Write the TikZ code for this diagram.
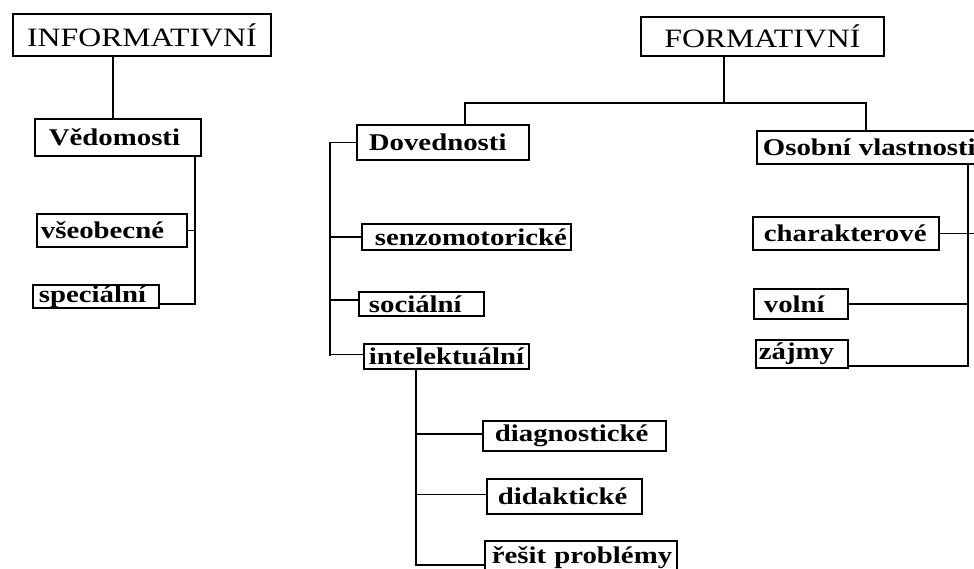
\documentclass[tikz,border=0pt]{standalone}
\usepackage{fontspec}
\newfontfamily\lblfont{Liberation Serif}[FakeStretch=1.2]
\usetikzlibrary{positioning,calc}

\tikzset{
  lbl/.style={draw, line width=1.8pt, anchor=north west, inner ysep=0pt, align=left,
    font=\lblfont\bfseries\fontsize{24}{26}\selectfont},
  head/.style={draw, line width=1.8pt, anchor=north west, inner sep=0pt,
    font=\lblfont\fontsize{26.5}{28}\selectfont},
  conn/.style={line width=1.8pt}
}

\begin{document}
\begin{tikzpicture}[x=1pt,y=-1pt]
    \useasboundingbox (0,0) rectangle (974,568);
    \clip (0,0) rectangle (974,568);

    % headings
    \node[head, minimum width=258pt, minimum height=42pt] (inf) at (12,13) {INFORMATIVNÍ};
    \node[head, minimum width=243pt, minimum height=39pt] (form) at (640,16) {FORMATIVNÍ};

    % informativni
    \node[lbl, inner xsep=14pt, text width=138pt, minimum height=37pt] (ved) at (34,118) {Vědomosti};
    \node[lbl, inner xsep=4pt, text width=142pt, minimum height=33pt] (vseob) at (36,213) {všeobecné};
    \node[lbl, inner xsep=6pt, text width=114pt, minimum height=23pt] (spec) at (32,284) {speciální};

    % formativni - dovednosti
    \node[lbl, inner xsep=12pt, text width=148pt, minimum height=35pt] (dov) at (356,124) {Dovednosti};
    \node[lbl, inner xsep=13pt, text width=183pt, minimum height=26pt] (senz) at (361,223) {senzomotorické};
    \node[lbl, inner xsep=10pt, text width=105pt, minimum height=24pt] (soc) at (358,291) {sociální};
    \node[lbl, inner xsep=5pt, text width=155pt, minimum height=25pt] (intel) at (363,343) {intelektuální};
    \node[lbl, inner xsep=12pt, text width=159pt, minimum height=30pt] (diag) at (482,420) {diagnostické};
    \node[lbl, inner xsep=11pt, text width=133pt, minimum height=35pt] (didak) at (486,478) {didaktické};
    \node[lbl, inner xsep=7pt, text width=178pt, minimum height=34pt] (resit) at (484,540) {\mbox{řešit problémy}};

    % formativni - osobni vlastnosti
    \node[lbl, inner xsep=6pt, text width=222pt, minimum height=33pt] (osob) at (756,130) {\mbox{Osobní vlastnosti}};
    \node[lbl, inner xsep=11pt, text width=164pt, minimum height=33pt] (char) at (752,216) {charakterové};
    \node[lbl, inner xsep=10pt, text width=74pt, minimum height=30pt] (voln) at (753,288) {volní};
    \node[lbl, inner xsep=3pt, text width=86pt, minimum height=28pt] (zajm) at (755,339) {zájmy};

    % trunk positions
    \coordinate (vedT) at (113,0);
    \coordinate (vedR) at (195,0);
    \coordinate (fork) at (724,103);
    \coordinate (forkL) at (465,103);
    \coordinate (forkR) at (866,103);
    \coordinate (dovL) at (330,0);
    \coordinate (intT) at (416,0);
    \coordinate (osoR) at (968,0);

    % connectors
    \draw[conn] (inf.south -| vedT) -- (ved.north -| vedT);
    \draw[conn] (ved.south -| vedR) |- ([yshift=5pt]spec.south east);
    \draw[conn] (vseob.east) -- (vseob.east -| vedR);

    \draw[conn] (form.south -| fork) -- (fork);
    \draw[conn] (dov.north -| forkL) -- (forkL) -- (forkR) -- (osob.north -| forkR);

    \draw[conn] (dov.west) -| (intel.west -| dovL);
    \draw[conn] (senz.west) -- (senz.west -| dovL);
    \draw[conn] ([yshift=4pt]soc.west) -- ([yshift=4pt]soc.west -| dovL);
    \draw[conn] ([yshift=2pt]intel.west) -- ([yshift=2pt]intel.west -| dovL);

    \draw[conn] (intel.south -| intT) |- ([yshift=-7pt]resit.west);
    \draw[conn] ([yshift=2pt]diag.west) -- ([yshift=2pt]diag.west -| intT);
    \draw[conn] ([yshift=2pt]didak.west) -- ([yshift=2pt]didak.west -| intT);

    \draw[conn] (osob.south -| osoR) |- ([yshift=-12pt]zajm.east);
    \draw[conn] (char.east) -- ++(35,0);
    \draw[conn] (voln.east) -- (voln.east -| osoR);
\end{tikzpicture}
\end{document}
